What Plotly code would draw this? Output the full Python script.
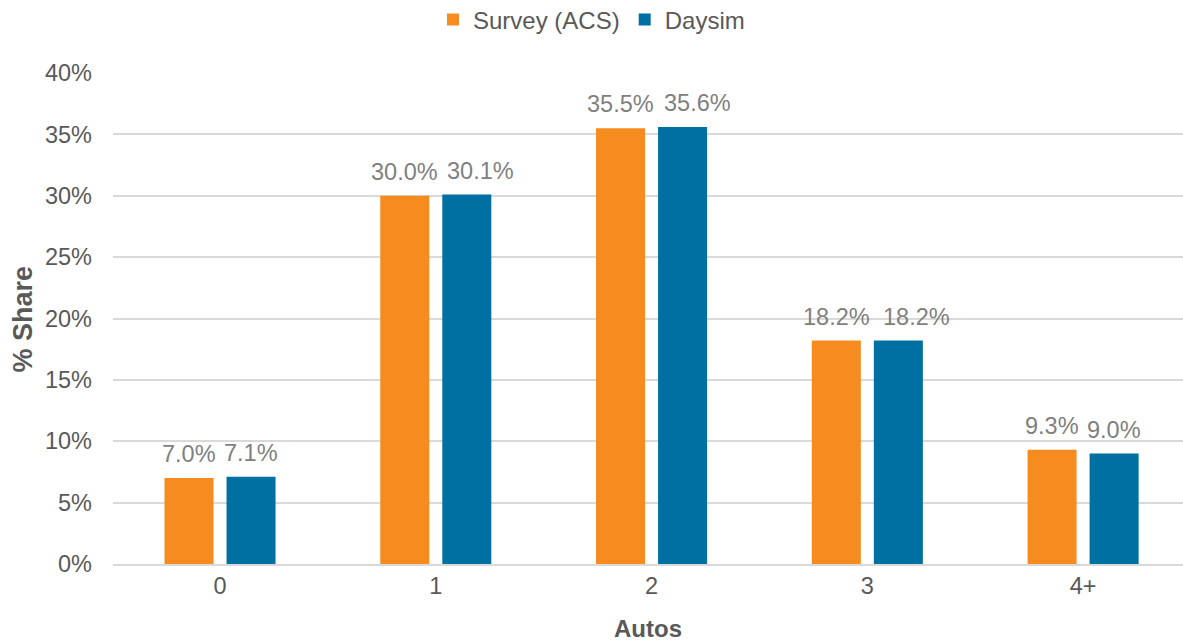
import plotly.graph_objects as go

categories = ["0", "1", "2", "3", "4+"]
survey = [0.070, 0.300, 0.355, 0.182, 0.093]
daysim = [0.071, 0.301, 0.356, 0.182, 0.090]
series_names = ["Survey (ACS)", "Daysim"]
colors = ["#F68B1F", "#006FA1"]

# pixel offsets of each series' bar from the category centre (style only)
bar_offsets = [-31, 31]
# extra horizontal nudge of the second series' labels to avoid overlap (style only)
label_nudge = [[0, 0, 0, 0, 0], [0, 14, 15, 18, 0]]

FONT = "Liberation Sans, Arial"
fig = go.Figure()
for name, vals, col in zip(series_names, [survey, daysim], colors):
    fig.add_trace(go.Bar(
        x=categories, y=vals, name=name, marker_color=col,
        marker_line_width=0,
    ))

for j, vals in enumerate([survey, daysim]):
    for i, (c, v) in enumerate(zip(categories, vals)):
        fig.add_annotation(
            x=c, y=v, xref="x", yref="y", text=f"{v*100:.1f}%",
            showarrow=False, yanchor="bottom", xanchor="center",
            xshift=bar_offsets[j] + label_nudge[j][i], yshift=9,
            font=dict(color="#7F7F7F", size=23.5, family=FONT),
        )

# y-axis title
fig.add_annotation(
    text="<b>% Share</b>", textangle=-90, showarrow=False,
    xref="paper", yref="paper", x=-(113 - 22) / 1070, y=0.5,
    xanchor="center", yanchor="middle",
    font=dict(size=27, color="#595959", family=FONT),
)

fig.update_layout(
    width=1183, height=643,
    paper_bgcolor="white", plot_bgcolor="white",
    margin=dict(l=113, r=0, t=73, b=79, autoexpand=False),
    barmode="group", bargap=0.425, bargroupgap=0.21,
    font=dict(family=FONT, color="#595959", size=23.5),
    legend=dict(orientation="h", x=0.5, xanchor="center", xref="container",
                y=1 - 20 / 643, yanchor="middle", yref="container",
                font=dict(size=24, color="#595959"),
                itemwidth=30, traceorder="normal"),
    showlegend=True,
)
fig.update_xaxes(
    type="category", range=[-0.496, 4.463], automargin=False,
    title=dict(text="<b>Autos</b>", font=dict(size=24, color="#595959"), standoff=22),
    tickfont=dict(size=23.5, color="#595959"), ticks="", showgrid=False,
    showline=True, linecolor="#D9D9D9", linewidth=2,
)
fig.update_yaxes(
    range=[0, 0.40], dtick=0.05, tickformat=".0%", automargin=False,
    tickfont=dict(size=23.5, color="#595959"),
    showgrid=True, gridcolor="#D9D9D9", gridwidth=2, zeroline=False,
    ticklabelstandoff=20,
)
fig.write_html("out.html", config={"displayModeBar": False},
               post_script="document.body.style.margin='0px';")
